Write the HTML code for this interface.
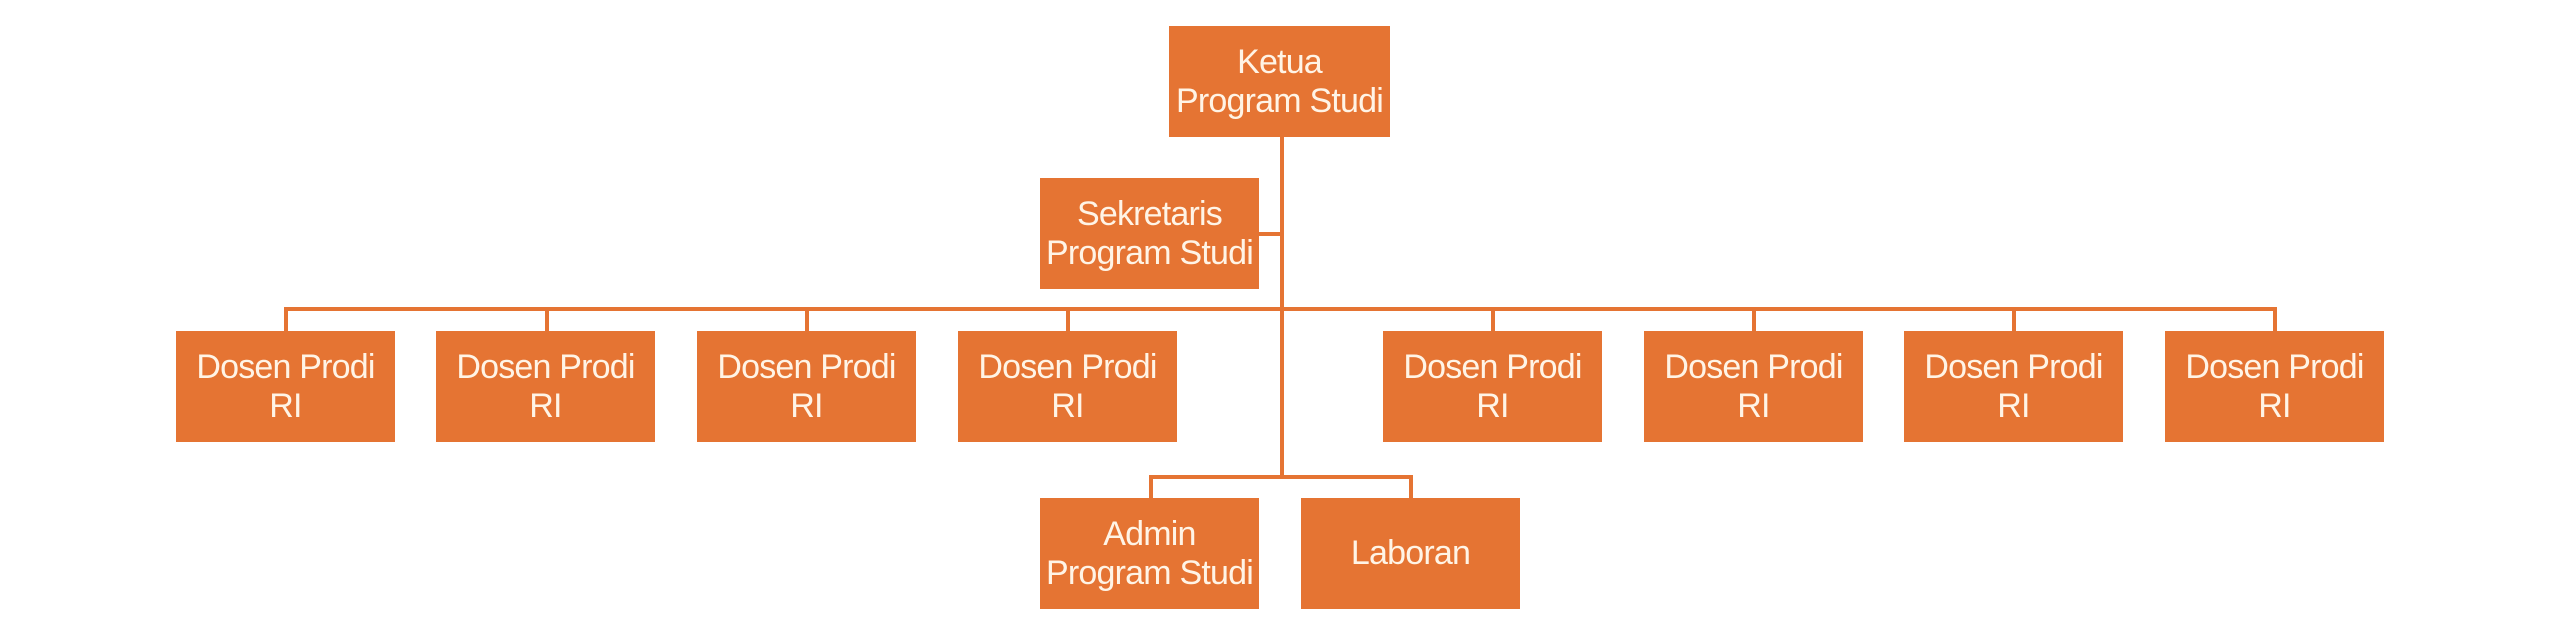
<!DOCTYPE html>
<html><head><meta charset="utf-8"><style>
body{margin:0;width:2560px;height:640px;background:#fff;position:relative;overflow:hidden;font-family:"Liberation Sans",sans-serif}
.b{position:absolute;background:#E57433;color:#FFF4E6;display:flex;align-items:center;justify-content:center;text-align:center;font-size:34px;line-height:39px;letter-spacing:-0.8px}
.l{position:absolute;background:#E57433}
</style></head><body>
<div class="l" style="left:1280px;top:137px;width:4px;height:340px"></div>
<div class="l" style="left:1259px;top:232px;width:23px;height:4px"></div>
<div class="l" style="left:284px;top:307px;width:1993px;height:4px"></div>
<div class="l" style="left:284px;top:307px;width:4px;height:24px"></div>
<div class="l" style="left:545px;top:307px;width:4px;height:24px"></div>
<div class="l" style="left:805px;top:307px;width:4px;height:24px"></div>
<div class="l" style="left:1066px;top:307px;width:4px;height:24px"></div>
<div class="l" style="left:1491px;top:307px;width:4px;height:24px"></div>
<div class="l" style="left:1752px;top:307px;width:4px;height:24px"></div>
<div class="l" style="left:2012px;top:307px;width:4px;height:24px"></div>
<div class="l" style="left:2273px;top:307px;width:4px;height:24px"></div>
<div class="l" style="left:1149px;top:475px;width:264px;height:4px"></div>
<div class="l" style="left:1149px;top:475px;width:4px;height:23px"></div>
<div class="l" style="left:1409px;top:475px;width:4px;height:23px"></div>
<div class="b" style="left:1169px;top:26px;width:221px;height:111px">Ketua<br>Program Studi</div>
<div class="b" style="left:1040px;top:178px;width:219px;height:111px">Sekretaris<br>Program Studi</div>
<div class="b" style="left:176px;top:331px;width:219px;height:111px">Dosen Prodi<br>RI</div>
<div class="b" style="left:436px;top:331px;width:219px;height:111px">Dosen Prodi<br>RI</div>
<div class="b" style="left:697px;top:331px;width:219px;height:111px">Dosen Prodi<br>RI</div>
<div class="b" style="left:958px;top:331px;width:219px;height:111px">Dosen Prodi<br>RI</div>
<div class="b" style="left:1383px;top:331px;width:219px;height:111px">Dosen Prodi<br>RI</div>
<div class="b" style="left:1644px;top:331px;width:219px;height:111px">Dosen Prodi<br>RI</div>
<div class="b" style="left:1904px;top:331px;width:219px;height:111px">Dosen Prodi<br>RI</div>
<div class="b" style="left:2165px;top:331px;width:219px;height:111px">Dosen Prodi<br>RI</div>
<div class="b" style="left:1040px;top:498px;width:219px;height:111px">Admin<br>Program Studi</div>
<div class="b" style="left:1301px;top:498px;width:219px;height:111px">Laboran</div>
</body></html>
